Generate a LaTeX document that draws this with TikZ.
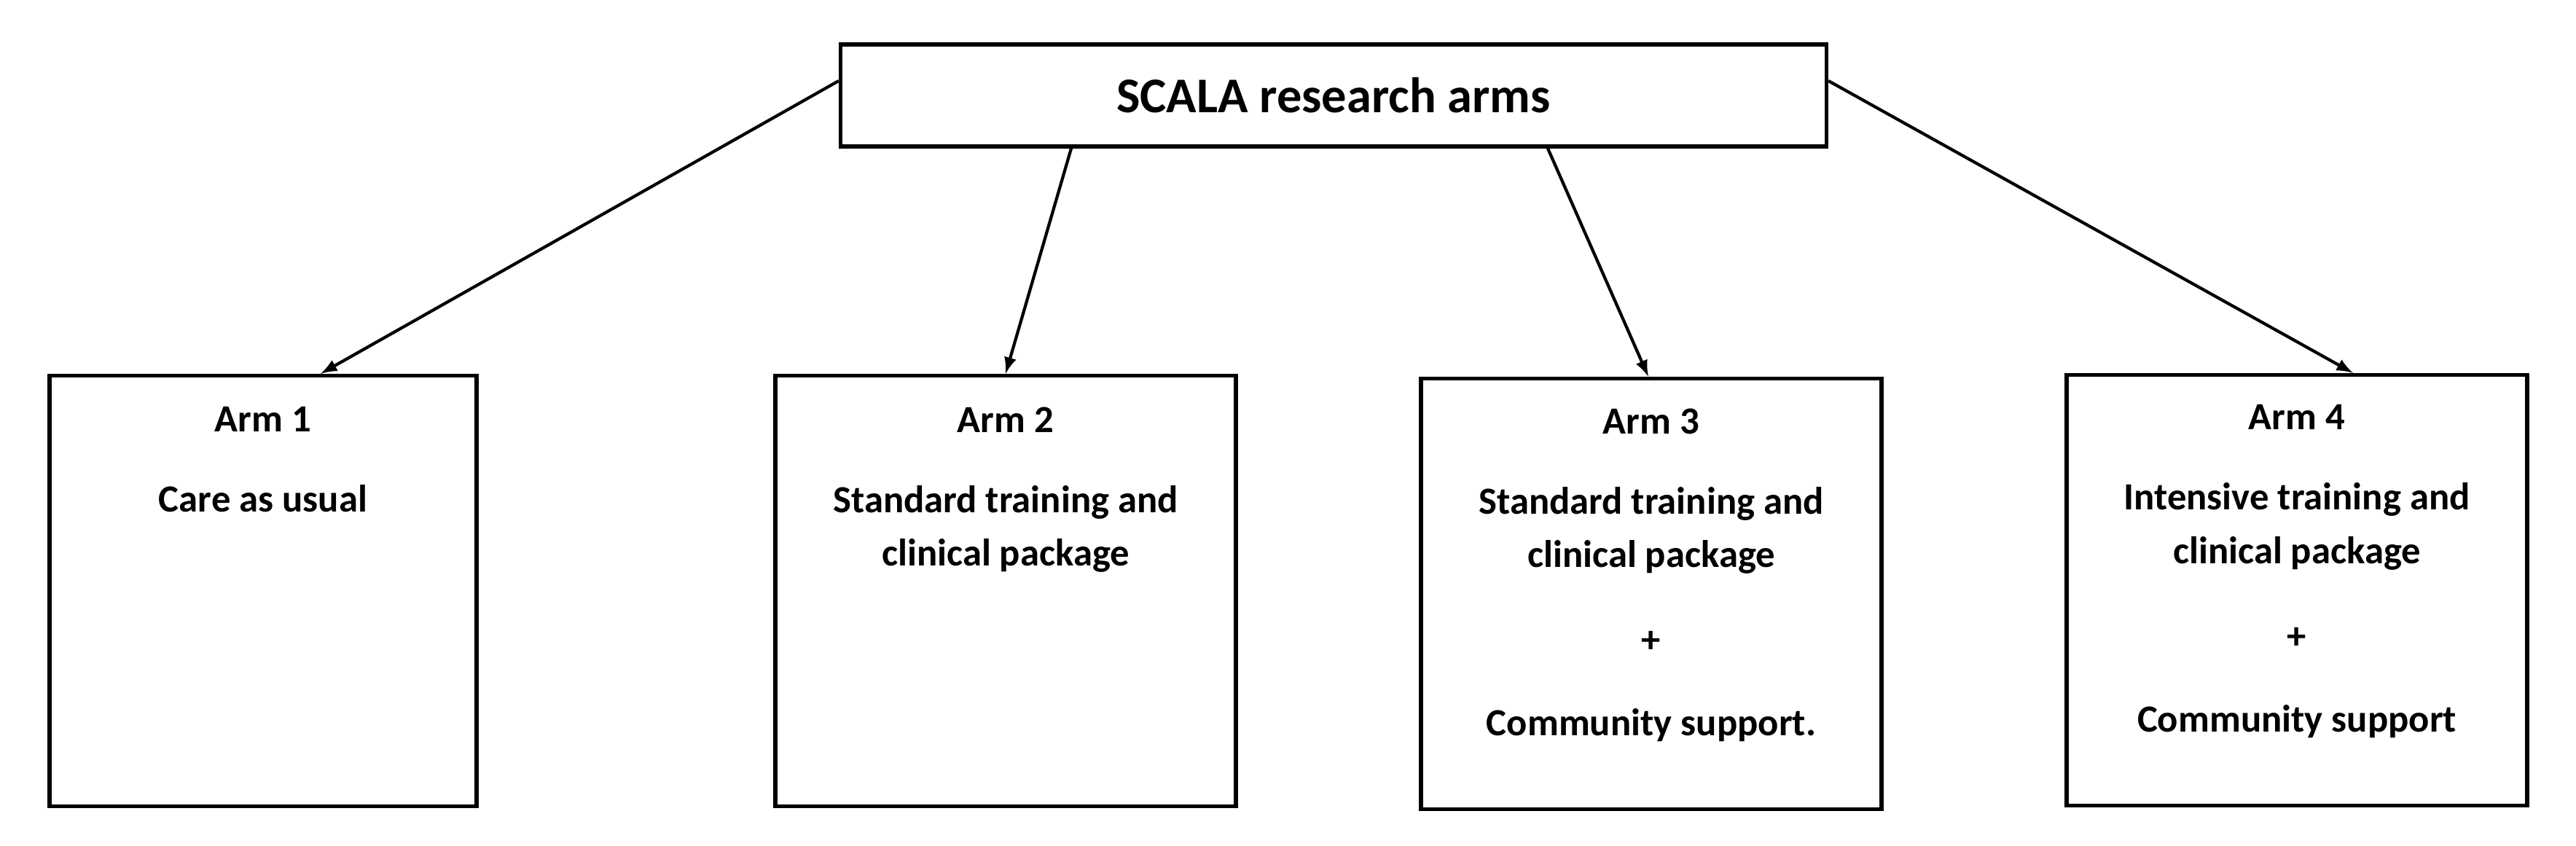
\documentclass[tikz,border=0pt]{standalone}
\usepackage{fontspec}
\setmainfont{Carlito}
\usetikzlibrary{arrows, positioning}

\tikzset{
    armbox/.style={draw, line width=1.5pt, minimum width=6.32cm, minimum height=5.91cm, inner sep=0pt},
    armtext/.style={anchor=north, align=center, font=\bfseries\fontsize{15}{21}\selectfont, inner sep=0pt},
    link/.style={-latex, line width=1.2pt}
}

\begin{document}
\begin{tikzpicture}[x=1cm,y=1cm]
        \useasboundingbox (0,0) rectangle (35.35,11.6);
        % top box
        \node[draw, line width=1.5pt, minimum width=13.53cm, minimum height=1.40cm, font=\bfseries\fontsize{19.5}{23}\selectfont] (top) at (18.30,10.29) {SCALA research arms};
        
        % arm boxes
        \node[armbox, minimum width=5.86cm] (arm1) at (3.61,3.49) {};
        \node[armbox] (arm2) at (13.80,3.49) {};
        \node[armbox] (arm3) at (22.66,3.45) {};
        \node[armbox] (arm4) at (31.52,3.50) {};
        
        \node[armtext] (t1) at (3.61,6.02) {Arm 1\\[0.36cm] Care as usual};
        \node[armtext] (t2) at (13.80,6.02) {Arm 2\\[0.36cm] Standard training and\\ clinical package};
        \node[armtext] (t3) at (22.66,6.00) {Arm 3\\[0.36cm] Standard training and\\ clinical package\\[0.43cm] +\\[0.40cm] Community support.};
        \node[armtext] (t4) at (31.52,6.05) {Arm 4\\[0.36cm] Intensive training and\\ clinical package\\[0.43cm] +\\[0.40cm] Community support};
        
        % arrows
        \draw[link] (top.west |- 0,10.49) -- (arm1.north -| 4.40,0);
        \draw[link] (top.south -| 14.70,0) -- (arm2.north -| 13.80,0);
        \draw[link] (top.south -| 21.24,0) -- (arm3.north -| 22.62,0);
        \draw[link] (top.east |- 0,10.49) -- (arm4.north -| 32.29,0);
    \end{tikzpicture}
\end{document}
